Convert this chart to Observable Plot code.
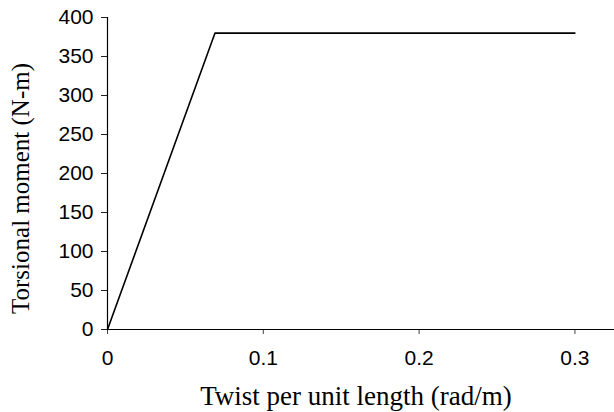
<!DOCTYPE html>
<html><head><meta charset="utf-8">
<script src="https://cdn.jsdelivr.net/npm/d3@7"></script>
<script src="https://cdn.jsdelivr.net/npm/@observablehq/plot@0.6"></script>
<style>body{margin:0;background:#fff}</style>
</head><body><div id="chart"></div>
<script>
const twist = [0, 0.069, 0.3];
const moment = [0, 380, 380];
const xTicks = [0, 0.1, 0.2, 0.3];
const yTicks = [0, 50, 100, 150, 200, 250, 300, 350, 400];
const xTitle = "Twist per unit length (rad/m)";
const yTitle = "Torsional moment (N-m)";

const data = twist.map((t, i) => ({twist: t, moment: moment[i]}));
const serif = "'Liberation Serif', 'Times New Roman', serif";

const chart = Plot.plot({
  width: 614, height: 412,
  marginLeft: 107, marginRight: 0, marginTop: 17, marginBottom: 83,
  style: {fontFamily: "'Liberation Sans', Arial, sans-serif", fontSize: "21px", color: "#000", background: "#fff"},
  x: {domain: [0, 0.3254]},
  y: {domain: [0, 400]},
  marks: [
    Plot.axisX(xTicks, {tickSize: 5, tickPadding: 16, tickFormat: d => String(d), label: null, fontSize: 21, stroke: "#444"}),
    Plot.axisY(yTicks, {tickSize: 6, tickPadding: 8, label: null, fontSize: 21, stroke: "#222"}),
    Plot.ruleY([0], {stroke: "#000", strokeWidth: 1.2}),
    Plot.ruleX([0], {stroke: "#000", strokeWidth: 1.2}),
    Plot.line(data, {x: "twist", y: "moment", stroke: "#000", strokeWidth: 1.6}),
    Plot.text([xTitle], {text: d => d, frameAnchor: "bottom", lineAnchor: "bottom", textAnchor: "middle", dx: -5, dy: 75, fontSize: 27, fontFamily: serif}),
    Plot.text([yTitle], {text: d => d, frameAnchor: "left", lineAnchor: "bottom", textAnchor: "middle", rotate: -90, dx: -79, dy: 15, fontSize: 25, fontFamily: serif})
  ]
});
document.getElementById("chart").append(chart);
</script>
</body></html>
